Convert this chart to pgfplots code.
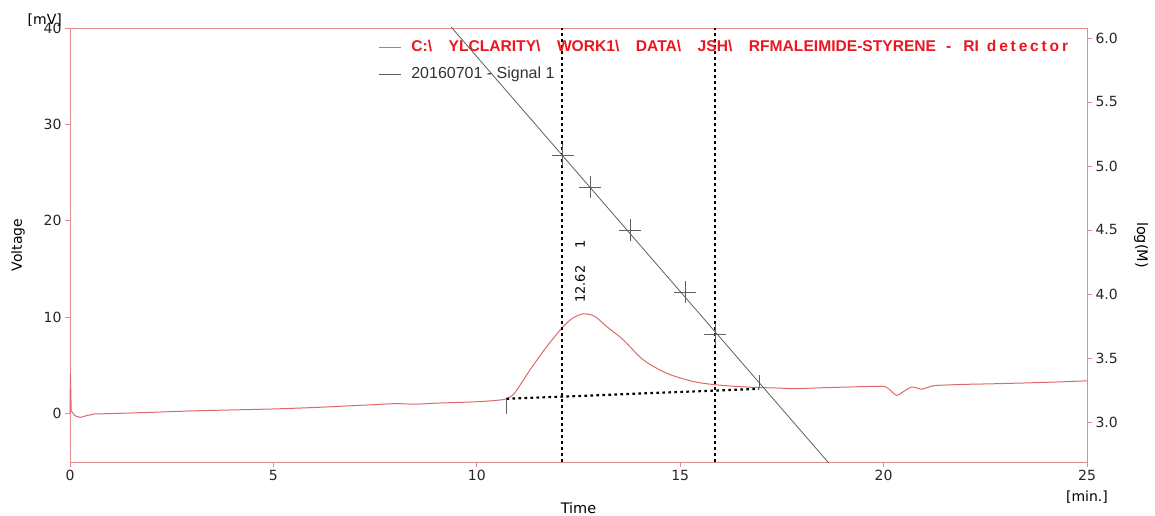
\documentclass[border=0pt]{standalone}
\usepackage{pgfplots}
\pgfplotsset{compat=1.18}
\usepackage{fontspec}
\setmainfont{DejaVu Sans}
\newfontfamily\legfont{Liberation Sans Bold}
\newfontfamily\legfontsp[LetterSpace=18]{Liberation Sans Bold}
\newfontfamily\arialfont{Liberation Sans}
\definecolor{axiscol}{RGB}{224,140,140}
\definecolor{sigred}{RGB}{222,105,105}
\definecolor{legred}{RGB}{236,22,32}
\definecolor{calgray}{RGB}{95,95,95}
\newcommand{\fs}[1]{\fontsize{#1}{#1}\selectfont}
\newcommand{\bs}{\textbackslash\hspace{16.5pt}}

\pgfplotsset{
  chrom/.style={
    scale only axis, width=1017pt, height=434pt,
    xmin=0, xmax=25,
    axis line style={axiscol, line width=0.9pt},
    tick style={axiscol, line width=0.9pt},
    tick align=outside, major tick length=5pt,
    tick label style={font=\fs{14}, text=black!85},
    /pgf/number format/assume math mode=true,
  }
}

\begin{document}
\begin{tikzpicture}
\useasboundingbox (-70pt,-53pt) rectangle (1085pt,462pt);

% left axis: detector signal in mV
\begin{axis}[chrom,
  ymin=-5, ymax=40, clip=false,
  xtick={0,5,10,15,20,25}, ytick={0,10,20,30,40},
  tick pos=left,
  xlabel={Time}, ylabel={Voltage},
  every axis x label/.style={at={(axis description cs:0.5,-0.106)}, anchor=center, font=\fs{14.5}},
  every axis y label/.style={at={(axis description cs:-0.0511,0.5)}, rotate=90, anchor=center, font=\fs{14}},
  legend style={at={(rel axis cs:0.303,0.972)}, anchor=north west, draw=none, fill=none,
    inner sep=0pt, row sep=13pt, nodes={inner sep=0pt, text height=11pt, text depth=3pt}},
  legend cell align=left,
  legend image code/.code={\draw[#1] (0pt,0pt) -- (22pt,0pt); \path (32pt,0pt);},
]
\addplot[sigred, line width=1pt, forget plot] coordinates {
 (0,0.1) (0.01,4.2) (0.03,0.3) (0.12,-0.2) (0.25,-0.38) (0.4,-0.2) (0.6,-0.02)};
\addplot[sigred, line width=1pt, smooth, tension=0.5] coordinates {
 (0.6,-0.02) (1,0.02) (2,0.15) (3,0.3) (4,0.4) (5,0.5) (6,0.65) (7,0.85) (7.5,0.95) (8,1.05)
 (8.5,1.0) (9,1.1) (10,1.25) (10.5,1.4) (10.73,1.55) (10.9,2.0) (11.1,3.2) (11.31,4.56)
 (11.72,6.97) (12.09,8.87) (12.35,9.9) (12.62,10.36) (12.9,10.1) (13.19,9.05)
 (13.6,7.67) (14.09,5.6) (14.67,4.2) (15.32,3.35) (15.89,3.0) (16.63,2.77)
 (17.45,2.66) (17.8,2.6) (18.5,2.7) (19.1,2.77) (19.8,2.85) (20.05,2.8) (20.2,2.3)
 (20.32,1.9) (20.45,2.2) (20.67,2.75) (20.8,2.7) (20.93,2.55) (21.1,2.75) (21.28,2.93)
 (22,3.05) (22.58,3.1) (23.5,3.2) (24.3,3.3) (25,3.42)};
\addlegendentry{\fs{15.6}\color{legred}\legfont C:\bs YLCLARITY\bs WORK1\bs DATA\bs JSH\bs RFMALEIMIDE-STYRENE\hspace{10pt}-\hspace{12pt}RI\hspace{8pt}\legfontsp detector}
\addlegendimage{calgray, line width=0.8pt}
\addlegendentry{\arialfont\fs{16}\color{black!80}20160701 - Signal 1}

% peak limits and baseline
\addplot[black, line width=2.4pt, dash pattern=on 2.6pt off 3.4pt, forget plot] coordinates {(12.09,-5) (12.09,40)};
\addplot[black, line width=2.4pt, dash pattern=on 2.6pt off 3.4pt, forget plot] coordinates {(15.86,-5) (15.86,40)};
\addplot[black, line width=2.2pt, dash pattern=on 2.6pt off 3.4pt, forget plot] coordinates {(10.73,1.55) (16.94,2.59)};
\addplot[calgray, line width=0.9pt, forget plot] coordinates {(10.73,1.55) (10.73,0)};
\addplot[calgray, line width=0.9pt, forget plot] coordinates {(16.94,2.7) (16.94,4.0)};

\node[rotate=90, anchor=west, inner sep=0pt, font=\fs{13}] at (axis cs:12.54,11.5) {12.62\hspace{17pt}1};
\node[anchor=east, inner sep=0pt, font=\fs{14}] at ([xshift=-8pt, yshift=8pt]rel axis cs:0,1) {[mV]};
\node[anchor=center, inner sep=0pt, font=\fs{14}] at ([yshift=-35pt]rel axis cs:1,0) {[min.]};
\end{axis}

% right axis: calibration log(M)
\begin{axis}[chrom,
  ymin=2.6875, ymax=6.078,
  axis x line=none, axis y line*=right,
  ytick={3,3.5,4,4.5,5,5.5,6},
  yticklabel style={/pgf/number format/.cd, fixed, fixed zerofill, precision=1},
  ylabel={log(M)},
  every axis y label/.style={at={(axis description cs:1.0531,0.5)}, rotate=-90, anchor=center, font=\fs{14.5}},
]
\addplot[calgray, line width=0.8pt] coordinates {(9,6.221) (19,2.552)};
\addplot[calgray, only marks, mark=+, mark size=11pt, mark options={line width=0.8pt}] coordinates {
 (12.11,5.086) (12.78,4.834) (13.77,4.5) (15.12,4.013) (15.86,3.6875)};
\end{axis}
\end{tikzpicture}
\end{document}
